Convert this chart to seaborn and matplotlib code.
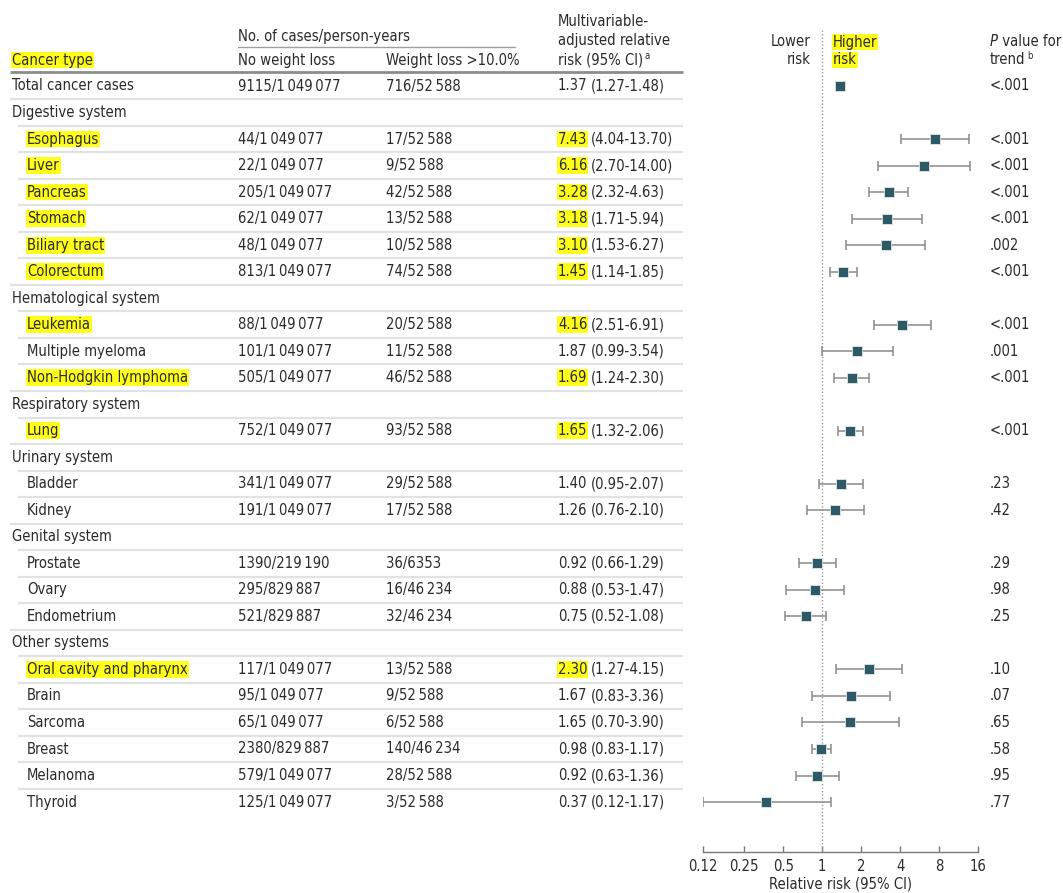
import numpy as np
import pandas as pd
import matplotlib
matplotlib.use("Agg")
import matplotlib.pyplot as plt
import seaborn as sns

names = ["Total cancer cases", "Digestive system", "Esophagus", "Liver", "Pancreas", "Stomach",
         "Biliary tract", "Colorectum", "Hematological system", "Leukemia", "Multiple myeloma",
         "Non-Hodgkin lymphoma", "Respiratory system", "Lung", "Urinary system", "Bladder", "Kidney",
         "Genital system", "Prostate", "Ovary", "Endometrium", "Other systems",
         "Oral cavity and pharynx", "Brain", "Sarcoma", "Breast", "Melanoma", "Thyroid"]
kind = ["total", "group", "item", "item", "item", "item", "item", "item", "group", "item", "item",
        "item", "group", "item", "group", "item", "item", "group", "item", "item", "item", "group",
        "item", "item", "item", "item", "item", "item"]
highlight = [False, False, True, True, True, True, True, True, False, True, False, True, False, True,
             False, False, False, False, False, False, False, False, True, False, False, False, False, False]
cases_nl = [9115, None, 44, 22, 205, 62, 48, 813, None, 88, 101, 505, None, 752, None, 341, 191,
            None, 1390, 295, 521, None, 117, 95, 65, 2380, 579, 125]
py_nl = [1049077, None, 1049077, 1049077, 1049077, 1049077, 1049077, 1049077, None, 1049077, 1049077,
         1049077, None, 1049077, None, 1049077, 1049077, None, 219190, 829887, 829887, None, 1049077,
         1049077, 1049077, 829887, 1049077, 1049077]
cases_wl = [716, None, 17, 9, 42, 13, 10, 74, None, 20, 11, 46, None, 93, None, 29, 17, None, 36, 16,
            32, None, 13, 9, 6, 140, 28, 3]
py_wl = [52588, None, 52588, 52588, 52588, 52588, 52588, 52588, None, 52588, 52588, 52588, None, 52588,
         None, 52588, 52588, None, 6353, 46234, 46234, None, 52588, 52588, 52588, 46234, 52588, 52588]
rr = [1.37, None, 7.43, 6.16, 3.28, 3.18, 3.10, 1.45, None, 4.16, 1.87, 1.69, None, 1.65, None, 1.40,
      1.26, None, 0.92, 0.88, 0.75, None, 2.30, 1.67, 1.65, 0.98, 0.92, 0.37]
lo = [1.27, None, 4.04, 2.70, 2.32, 1.71, 1.53, 1.14, None, 2.51, 0.99, 1.24, None, 1.32, None, 0.95,
      0.76, None, 0.66, 0.53, 0.52, None, 1.27, 0.83, 0.70, 0.83, 0.63, 0.12]
hi = [1.48, None, 13.70, 14.00, 4.63, 5.94, 6.27, 1.85, None, 6.91, 3.54, 2.30, None, 2.06, None, 2.07,
      2.10, None, 1.29, 1.47, 1.08, None, 4.15, 3.36, 3.90, 1.17, 1.36, 1.17]
pval = ["<.001", "", "<.001", "<.001", "<.001", "<.001", ".002", "<.001", "", "<.001", ".001", "<.001",
        "", "<.001", "", ".23", ".42", "", ".29", ".98", ".25", "", ".10", ".07", ".65", ".58", ".95", ".77"]
xticks = [0.12, 0.25, 0.5, 1, 2, 4, 8, 16]
xtick_labels = ["0.12", "0.25", "0.5", "1", "2", "4", "8", "16"]

df = pd.DataFrame({"name": names, "kind": kind, "hl": highlight, "c_nl": cases_nl, "py_nl": py_nl,
                   "c_wl": cases_wl, "py_wl": py_wl, "rr": rr, "lo": lo, "hi": hi, "p": pval})

sns.set_style("white")
plt.rcParams["font.family"] = ["DejaVu Sans"]
plt.rcParams["font.stretch"] = "condensed"
FS = 10.6
TXT = "#2b2b2b"
YEL = "#ffff1a"


def fmt(n):
    n = int(n)
    if n >= 10000:
        return f"{n:,}".replace(",", "\u2009")
    return str(n)


W, H = 1063, 893
fig = plt.figure(figsize=(W / 100, H / 100), dpi=100)
bg = fig.add_axes([0, 0, 1, 1])
bg.set_xlim(0, W)
bg.set_ylim(H, 0)
bg.axis("off")

y0, dy = 86, 26.52
df["y"] = y0 + np.arange(len(df)) * dy

hl_box = dict(facecolor=YEL, edgecolor="none", pad=0.6)

# header
bg.text(12, 60, "Cancer type", fontsize=FS, color=TXT, va="center", bbox=hl_box)
bg.text(238, 37, "No. of cases/person-years", fontsize=FS, color=TXT, va="center")
bg.plot([238, 515], [47, 47], color="#a0a0a0", lw=1)
bg.text(238, 60, "No weight loss", fontsize=FS, color=TXT, va="center")
bg.text(386, 60, "Weight loss >10.0%", fontsize=FS, color=TXT, va="center")
bg.text(558, 22, "Multivariable-", fontsize=FS, color=TXT, va="center")
bg.text(558, 41, "adjusted relative", fontsize=FS, color=TXT, va="center")
t = bg.text(558, 60, "risk (95% CI)", fontsize=FS, color=TXT, va="center")
bg.annotate("a", xy=(1, 0.75), xycoords=t, fontsize=FS * 0.65, color=TXT, va="center", xytext=(1, 0),
            textcoords="offset points")
bg.text(811, 42, "Lower", fontsize=FS, color=TXT, va="center", ha="right")
bg.text(811, 60, "risk", fontsize=FS, color=TXT, va="center", ha="right")
bg.text(833, 42, "Higher", fontsize=FS, color=TXT, va="center", bbox=hl_box)
bg.text(833, 60, "risk", fontsize=FS, color=TXT, va="center", bbox=hl_box)
t = bg.text(990, 42, "P", fontsize=FS, color=TXT, va="center", style="italic")
bg.annotate(" value for", xy=(1, 0.5), xycoords=t, fontsize=FS, color=TXT, va="center")
t = bg.text(990, 60, "trend", fontsize=FS, color=TXT, va="center")
bg.annotate("b", xy=(1, 0.75), xycoords=t, fontsize=FS * 0.65, color=TXT, va="center", xytext=(1, 0),
            textcoords="offset points")
bg.plot([10, 683], [72, 72], color="#8c8c8c", lw=2, solid_capstyle="butt")

# table rows
for i, r in df.iterrows():
    x_name = 27 if r["kind"] == "item" else 12
    bg.text(x_name, r["y"], r["name"], fontsize=FS, color=TXT, va="center",
            bbox=hl_box if r["hl"] else None)
    if r["kind"] != "group":
        bg.text(238, r["y"], f"{fmt(r['c_nl'])}/{fmt(r['py_nl'])}", fontsize=FS, color=TXT, va="center")
        bg.text(386, r["y"], f"{fmt(r['c_wl'])}/{fmt(r['py_wl'])}", fontsize=FS, color=TXT, va="center")
        t = bg.text(558, r["y"], f"{r['rr']:.2f}", fontsize=FS, color=TXT, va="center",
                    bbox=hl_box if r["hl"] else None)
        bg.annotate(f"({r['lo']:.2f}-{r['hi']:.2f})", xy=(1, 0.5), xycoords=t, fontsize=FS, color=TXT,
                    va="center", xytext=(2.4, 0), textcoords="offset points")
        bg.text(990, r["y"], r["p"], fontsize=FS, color=TXT, va="center")
    # separator below the row
    if i < len(df) - 1:
        nxt = df["kind"].iloc[i + 1]
        x_start = 10 if (nxt == "group" or r["kind"] == "total") else 18
        bg.plot([x_start, 683], [r["y"] + dy / 2] * 2, color="#e2e2e2", lw=1.6, solid_capstyle="butt")

# forest panel
x_left, x_right, y_top, y_bot = 703, 978, 20, 852
fa = fig.add_axes([x_left / W, 1 - y_bot / H, (x_right - x_left) / W, (y_bot - y_top) / H])
fa.set_xscale("log", base=2)
fa.set_xlim(0.12, 16)
fa.set_ylim(y_bot, y_top)
fa.patch.set_alpha(0)

est = df[df["kind"] != "group"]
fa.vlines(1, 30, y_bot, color="#9a9a9a", lw=1, linestyles=(0, (1, 1.5)), zorder=1)
fa.errorbar(est["rr"], est["y"], xerr=[est["rr"] - est["lo"], est["hi"] - est["rr"]], fmt="none",
            ecolor="#8a8a8a", elinewidth=1.1, capsize=3.8, capthick=1.1, zorder=2)
sns.scatterplot(data=est, x="rr", y="y", marker="s", s=48, color="#2d5a66", edgecolor="#dfe8ea",
                linewidth=0.6, ax=fa, zorder=3, legend=False)

for s in ["left", "top", "right"]:
    fa.spines[s].set_visible(False)
fa.spines["bottom"].set_color("#7a7a7a")
fa.spines["bottom"].set_linewidth(1)
fa.set_yticks([])
fa.set_xticks(xticks)
fa.set_xticklabels(xtick_labels)
fa.minorticks_off()
fa.tick_params(axis="x", direction="in", length=4, width=1, color="#7a7a7a", labelsize=FS,
               labelcolor=TXT, pad=5, bottom=True)
fa.set_xlabel("Relative risk (95% CI)", fontsize=FS, color=TXT, labelpad=2)
fa.set_ylabel("")

fig.savefig("out.png", dpi=100)
